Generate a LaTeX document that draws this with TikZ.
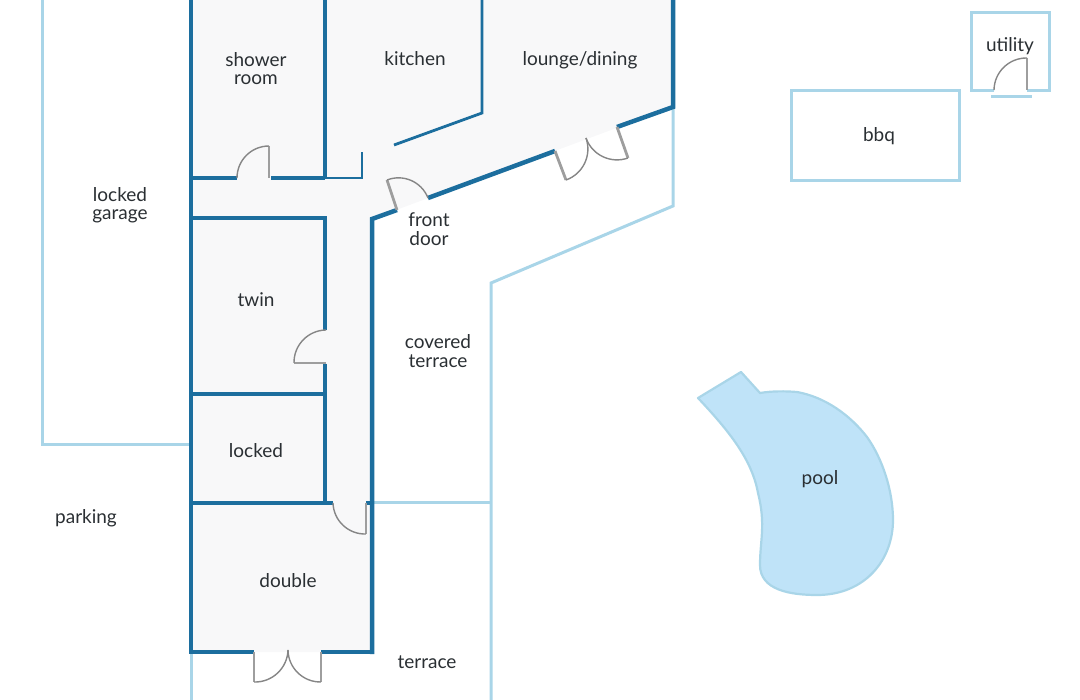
\documentclass[tikz,border=0pt]{standalone}
\usepackage{fontspec}
\setmainfont{Lato}
\definecolor{wallblue}{HTML}{1C6E9E}
\definecolor{paleblue}{HTML}{A9D5E8}
\definecolor{floorgrey}{HTML}{F8F8F9}
\definecolor{poolblue}{HTML}{BFE3F8}
\definecolor{leafgrey}{HTML}{9E9E9E}
\definecolor{labelgrey}{HTML}{2A2F33}
\tikzset{
	wall/.style={line width=4.5pt, color=wallblue, line join=miter},
	thinwall/.style={line width=2.8pt, color=wallblue},
	paleline/.style={line width=3pt, color=paleblue},
	leaf/.style={line width=2.8pt, color=leafgrey},
	swing/.style={line width=1.4pt, color=leafgrey!85!black},
	roomlabel/.style={font=\fontsize{19}{18.5}\selectfont, color=labelgrey, align=center, inner sep=0pt}
}
\def\door(#1)(#2)(#3)[#4]{\draw[leaf] (#1) -- (#2); \draw[swing] (#2) to[#4=45] (#3);}

\begin{document}
\begin{tikzpicture}[x=1pt, y=-1pt]
	%%%%% START %%%%%
	\useasboundingbox (0, 0) rectangle (1080, 700);
	
	% floor
	\fill[floorgrey] (191, 0) -- (673, 0) -- (673, 107) -- (372, 219) -- (372, 652) -- (191, 652) -- cycle;
	
	% outside lines
	\draw[paleline] (42, 0) -- (42, 445) -- (191, 445);
	\draw[paleline] (191, 652) -- (191, 700);
	\draw[paleline] (673, 107) -- (673, 206) -- (491, 283) -- (491, 700);
	\draw[paleline] (372, 503) -- (491, 503);
	\draw[paleline] (791, 91) rectangle (959, 181);
	\draw[paleline] (994, 91) -- (971, 91) -- (971, 13) -- (1049, 13) -- (1049, 91) -- (1027, 91);
	\draw[paleline] (991, 96.5) -- (1032, 96.5);
	
	% pool
	\draw[line width=2.2pt, color=paleblue, fill=poolblue, line join=round] (698, 398) -- (741, 372) -- (760, 393)
		.. controls (772, 391) and (785, 391) .. (797, 392)
		.. controls (825, 397) and (850, 415) .. (867, 437)
		.. controls (882, 458) and (893, 490) .. (893, 520)
		.. controls (893, 560) and (865, 595) .. (817, 595)
		.. controls (790, 595) and (760, 590) .. (760, 565)
		.. controls (760, 540) and (766, 525) .. (758, 493)
		.. controls (752, 460) and (730, 432) .. (698, 398) -- cycle;
	
	% walls
	\draw[wall] (191, 0) -- (191, 654);
	\draw[wall] (189, 652) -- (254, 652);
	\draw[wall] (321, 652) -- (374, 652);
	\draw[wall] (372, 654) -- (372, 219) -- (397, 210);
	\draw[wall] (428, 198) -- (555, 151);
	\draw[wall] (617, 127) -- (673, 107) -- (673, 0);
	\draw[wall] (325, 0) -- (325, 178);
	\draw[wall] (191, 178) -- (237, 178);
	\draw[wall] (271, 178) -- (325, 178);
	\draw[thinwall] (325, 178) -- (362, 178) -- (362, 152);
	\draw[thinwall] (482, 0) -- (482, 113) -- (394, 145);
	\draw[wall] (191, 218) -- (327, 218);
	\draw[wall] (325, 218) -- (325, 330);
	\draw[wall] (325, 364) -- (325, 503);
	\draw[wall] (191, 394) -- (325, 394);
	\draw[wall] (191, 503) -- (333, 503);
	\draw[wall] (366, 503) -- (372, 503);
	
	% doors
	\door(269, 178)(269, 146)(237, 178)[bend right]
	\door(397, 210)(387, 180)(428, 198)[bend left]
	\door(555, 151)(566, 180)(586, 138)[bend right]
	\door(617, 127)(628, 158)(586, 138)[bend left]
	\door(326, 363)(294, 363)(326, 330)[bend left]
	\door(366, 503)(366, 534)(333, 503)[bend left]
	\door(254, 652)(254, 682)(288, 650)[bend right]
	\door(321, 652)(321, 682)(288, 650)[bend left]
	\door(1027, 90)(1027, 58)(994, 90)[bend right]
	
	% labels
	\node[roomlabel] (shower) at (256, 68.5) {shower\\room};
	\node[roomlabel] (kitchen) at (415, 59) {kitchen};
	\node[roomlabel] (lounge) at (580, 60) {lounge/dining};
	\node[roomlabel] (garage) at (120, 205) {locked\\garage};
	\node[roomlabel] (twin) at (256, 300) {twin};
	\node[roomlabel] (lockedroom) at (256, 451) {locked};
	\node[roomlabel] (parking) at (86, 518) {parking};
	\node[roomlabel] (double) at (288, 581) {double};
	\node[roomlabel] (frontdoor) at (429, 229) {front\\door};
	\node[roomlabel] (covered) at (438, 351) {covered\\terrace};
	\node[roomlabel] (terrace) at (427, 662) {terrace};
	\node[roomlabel] (bbq) at (879, 136) {bbq};
	\node[roomlabel] (utility) at (1010, 46) {utility};
	\node[roomlabel] (pool) at (820, 479) {pool};
	
	%%%%% END %%%%%
\end{tikzpicture}
\end{document}
